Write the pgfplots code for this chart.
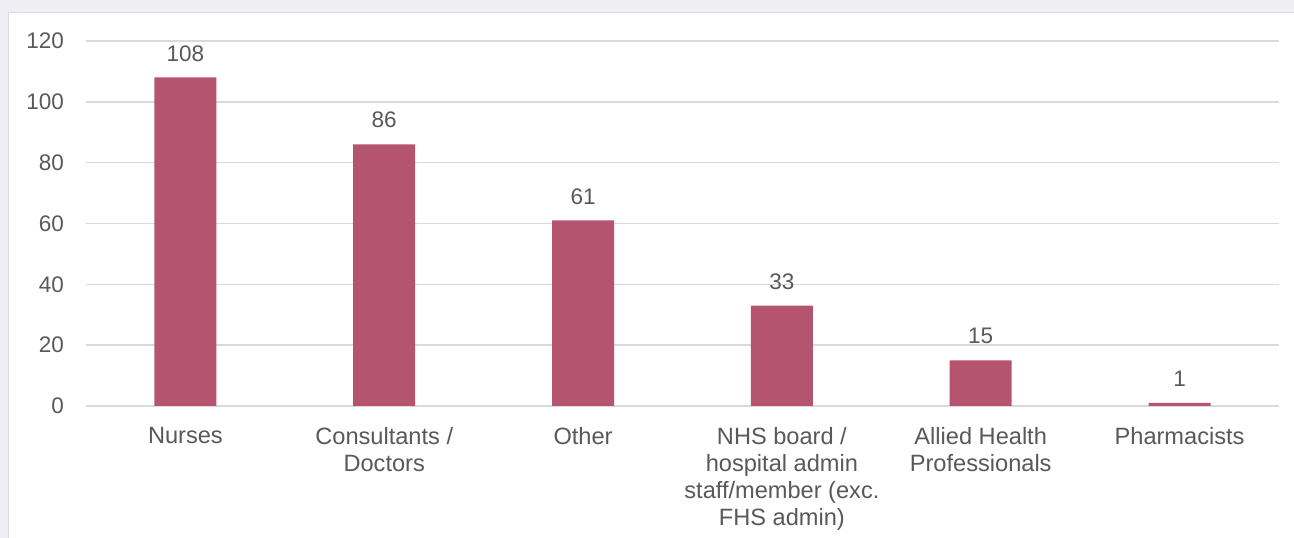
\documentclass[border=0pt]{standalone}
\usepackage{pgfplots}
\pgfplotsset{compat=1.18}
\usepackage{fontspec}
\setmainfont{Liberation Sans}
\definecolor{lav}{HTML}{F0EEF5}
\definecolor{panelborder}{HTML}{DDDCE2}
\definecolor{barc}{HTML}{B5546F}
\definecolor{txt}{HTML}{595959}
\definecolor{gridc}{HTML}{D9D9D9}
\begin{document}
\begin{tikzpicture}[x=1bp,y=1bp]
\useasboundingbox (0,0) rectangle (1294,538);
\fill[lav] (0,0) rectangle (1294,538);
\fill[white] (8,0) rectangle (1294,526);
\draw[panelborder,line width=1.5bp] (8.5,0) -- (8.5,525.5) -- (1294,525.5);
\begin{axis}[
  at={(86bp,132bp)}, anchor=south west,
  scale only axis, width=1193bp, height=365bp,
  xmin=-0.5, xmax=5.5, ymin=0, ymax=120,
  ytick={0,20,...,120},
  xtick=data,
  xticklabels={Nurses,{Consultants /\\Doctors},Other,{NHS board /\\hospital admin\\staff/member (exc.\\FHS admin)},{Allied Health\\Professionals},Pharmacists},
  axis line style={draw=none},
  major tick length=0pt,
  ymajorgrids, grid style={gridc, line width=1.5bp},
  /pgf/number format/assume math mode=true,
  font=\fontsize{22.5bp}{27bp}\selectfont,
  tick label style={text=txt, inner sep=0pt},
  xticklabel style={align=center, anchor=north, yshift=-21bp, font=\fontsize{23.6bp}{27bp}\selectfont},
  yticklabel style={anchor=east, xshift=-22bp},
  ybar, bar width=62bp, bar shift=0pt,
  nodes near coords,
  every node near coord/.append style={text=txt, anchor=south, inner sep=0pt, yshift=16bp},
  clip=false,
]
\addplot[fill=barc, draw=none] coordinates {(0,108) (1,86) (2,61) (3,33) (4,15) (5,1)};
\end{axis}
\end{tikzpicture}
\end{document}
